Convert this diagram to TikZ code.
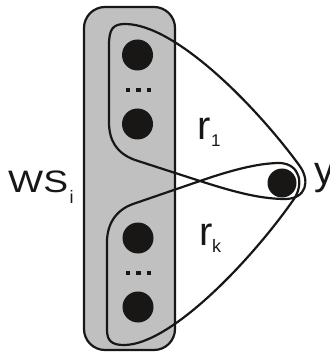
\documentclass[tikz,border=0pt]{standalone}
\usepackage{fontspec}
\setmainfont{Liberation Sans}
\definecolor{wsgray}{RGB}{192,192,192}
\definecolor{ink}{RGB}{25,22,22}
\begin{document}
\begin{tikzpicture}[x=1pt,y=-1pt,
  vert/.style={circle,fill=ink,minimum size=31pt,inner sep=0pt},
  outl/.style={draw=ink,line width=2.2pt},
  lbl/.style={anchor=base west,inner sep=0pt,text=ink}]
\useasboundingbox (0,0) rectangle (329,352);
% working set
\draw[outl,fill=wsgray,rounded corners=21pt] (84,7) rectangle (175,350);
% vertices
\node[vert] (a1) at (137.5,55) {};
\node[vert] (a2) at (137.5,124) {};
\node[vert] (b1) at (138,238) {};
\node[vert] (b2) at (138,307) {};
\node[vert,minimum size=29pt] (y) at (282,183) {};
\foreach \yy in {90,273}{
  \foreach \xx in {128,138.5,149}{
    \fill[ink] (\xx-2.3,\yy-2.3) rectangle (\xx+2.3,\yy+2.3);
  }
}
% hyperedge r1
\draw[outl] (109,45) .. controls (109,29) and (113,24) .. (125,24)
  .. controls (175,24) and (255,105) .. (299,165)
  .. controls (311,181) and (306,199) .. (285,199)
  .. controls (258,199) and (228,190) .. (200,181)
  -- (135,160)
  .. controls (116,153) and (109,140) .. (109,122)
  -- cycle;
% hyperedge rk
\draw[outl] (107,242) -- (107,330)
  .. controls (107,341) and (112,345) .. (124,345)
  .. controls (170,345) and (250,262) .. (294,199)
  .. controls (304,184) and (300,164) .. (280,163)
  .. controls (256,163) and (226,172) .. (200,181)
  -- (133,204)
  .. controls (116,210) and (107,224) .. (107,242)
  -- cycle;
% labels
\node[lbl] (ws) at (8,193) {\scalebox{1.2}[1]{\fontsize{31}{31}\selectfont WS}};
\node[lbl] (wsi) at (69.5,203) {\fontsize{18}{18}\selectfont i};
\node[lbl] (r1) at (197,140) {\fontsize{40}{40}\selectfont r};
\node[lbl] (r1s) at (211,147) {\fontsize{17}{17}\selectfont 1};
\node[lbl] (rk) at (199,245) {\fontsize{40}{40}\selectfont r};
\node[lbl] (rks) at (212,252) {\fontsize{18}{18}\selectfont k};
\node[lbl] (yl) at (314,184) {\fontsize{40}{40}\selectfont y};
\end{tikzpicture}
\end{document}
